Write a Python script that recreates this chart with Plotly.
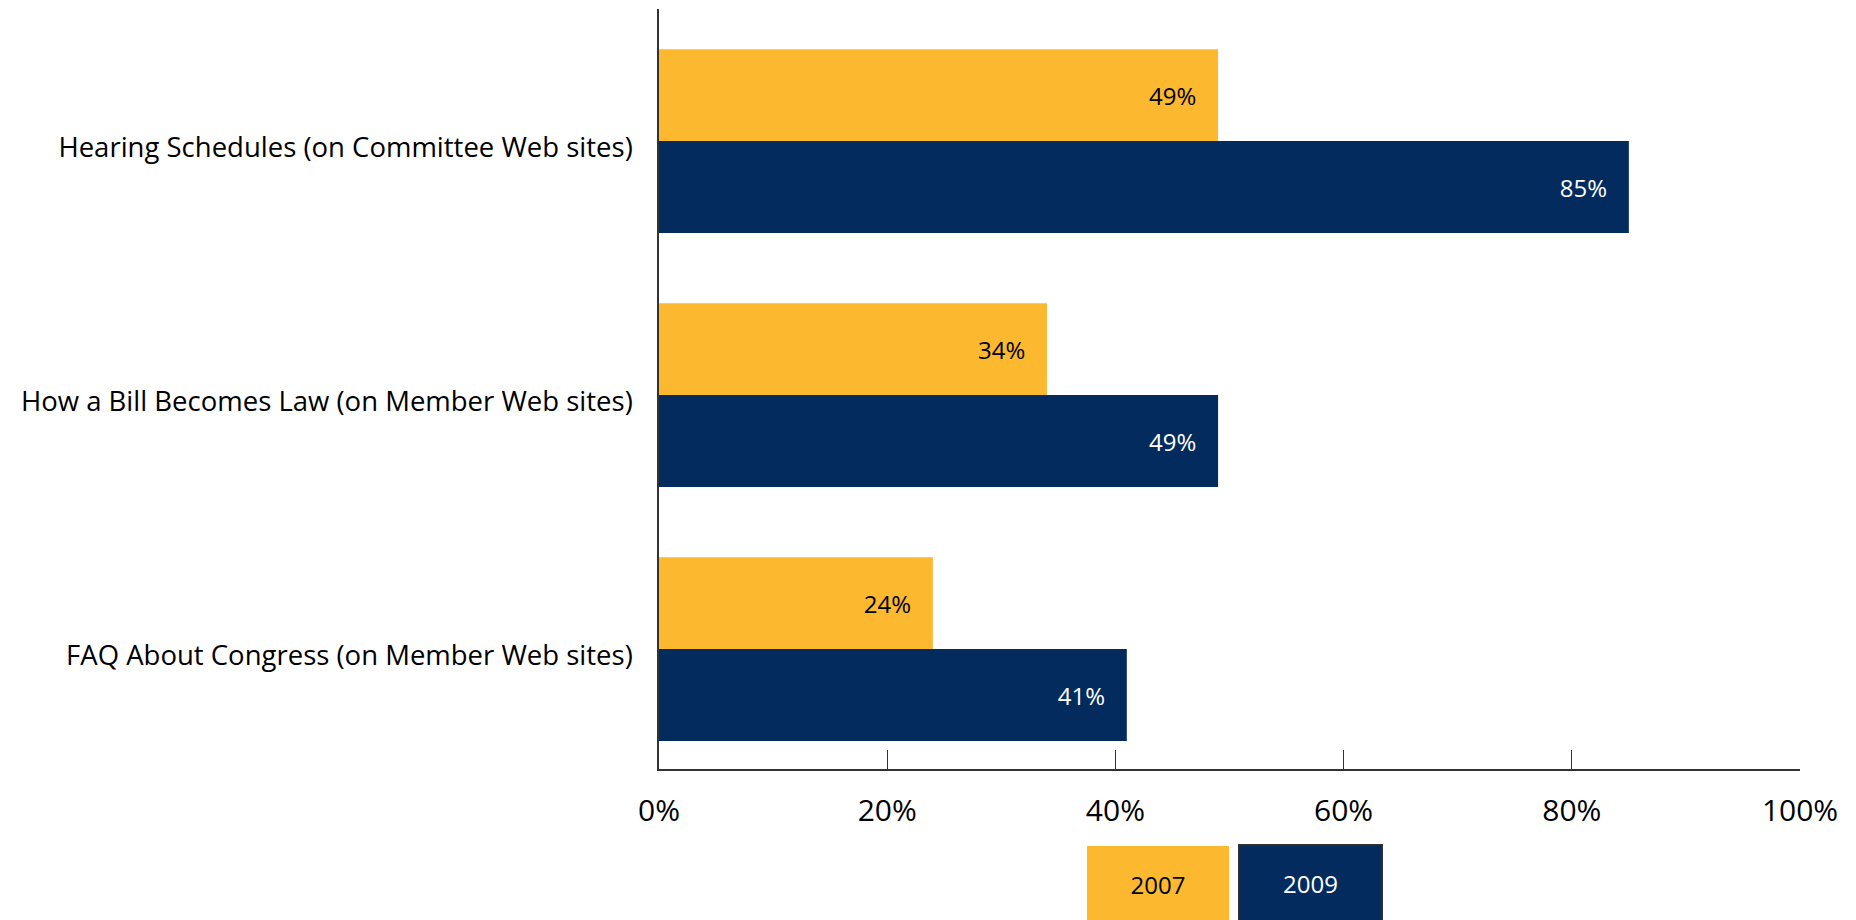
import plotly.graph_objects as go

categories = [
    "Hearing Schedules (on Committee Web sites)",
    "How a Bill Becomes Law (on Member Web sites)",
    "FAQ About Congress (on Member Web sites)",
]
series_names = ["2007", "2009"]
values_2007 = [49, 34, 24]
values_2009 = [85, 49, 41]
x_tickvals = [0, 20, 40, 60, 80, 100]
x_ticktext = ["0%", "20%", "40%", "60%", "80%", "100%"]

GOLD = "#FCB92F"
NAVY = "#032B5D"
FONT = "Open Sans"
PAD = "\u00a0\u00a0\u00a0"

fig = go.Figure()
for name, vals, color, tcolor in [
    (series_names[0], values_2007, GOLD, "#000000"),
    (series_names[1], values_2009, NAVY, "#FFFFFF"),
]:
    fig.add_trace(go.Bar(
        y=categories, x=vals, name=name, orientation="h",
        marker=dict(color=color, line=dict(width=0)),
        text=[f"{v}%{PAD}" for v in vals],
        textposition="inside", insidetextanchor="end",
        textfont=dict(family=FONT, size=24, color=tcolor),
        hoverinfo="x+name",
    ))

fig.update_layout(
    width=1856, height=920,
    margin=dict(l=651, r=64, t=1, b=159, autoexpand=False),
    paper_bgcolor="white", plot_bgcolor="white",
    barmode="group", bargap=0.276, bargroupgap=0,
    showlegend=False,
    font=dict(family=FONT, color="#000000"),
)
fig.update_xaxes(
    range=[0, 100], tickvals=x_tickvals, ticktext=x_ticktext,
    showgrid=False, zeroline=False,
    showline=True, linecolor="#333333", linewidth=1.5,
    ticks="inside", ticklen=19, tickcolor="#333333", tickwidth=1,
    tickfont=dict(family=FONT, size=30, color="#000000"),
    ticklabelstandoff=14,
)
fig.update_yaxes(
    type="category", categoryorder="array", categoryarray=categories,
    range=[2.472, -0.52],
    showgrid=False, zeroline=False,
    showline=True, linecolor="#333333", linewidth=1.5,
    ticks="", tickfont=dict(family=FONT, size=27.5, color="#000000"),
    ticklabelstandoff=19, ticklabelshift=-6,
)

# legend boxes
legend_specs = [
    (series_names[0], GOLD, "#000000", 0.4373, 0, GOLD),
    (series_names[1], NAVY, "#FFFFFF", 0.5714, 1.5, "#333333"),
]
for name, bg, fc, xc, bw, bc in legend_specs:
    fig.add_annotation(
        xref="paper", yref="paper", x=xc, y=-0.151,
        xanchor="center", yanchor="middle",
        text=name, showarrow=False,
        font=dict(family=FONT, size=24, color=fc),
        bgcolor=bg, bordercolor=bc, borderwidth=bw, borderpad=0,
        width=142, height=76, align="center", valign="middle",
    )

fig.write_html("out.html")
